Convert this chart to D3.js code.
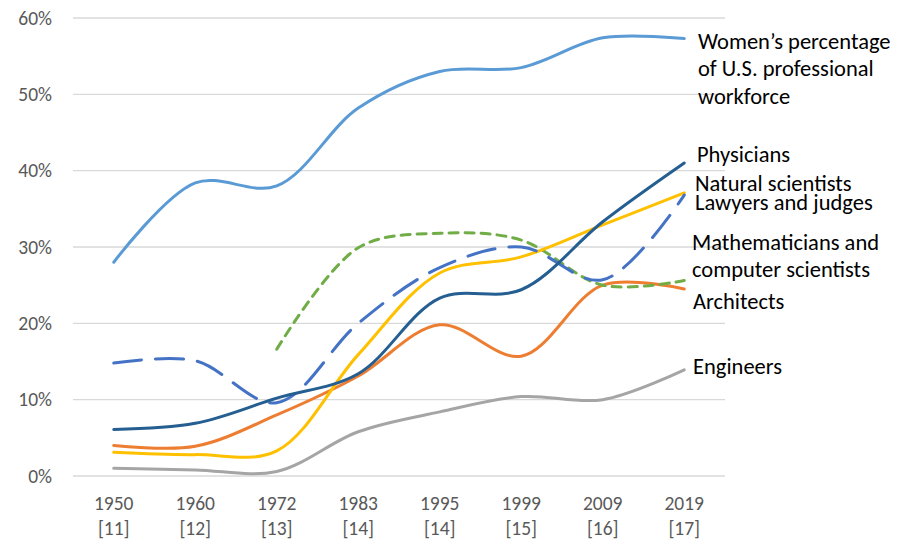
<!DOCTYPE html>
<html><head><meta charset="utf-8">
<script src="https://cdn.jsdelivr.net/npm/d3@7"></script>
<style>body{margin:0;background:#fff}svg{display:block}</style>
</head><body>
<svg id="c" width="900" height="546"></svg>
<script>
const years = ["1950","1960","1972","1983","1995","1999","2009","2019"];
const refs = ["[11]","[12]","[13]","[14]","[14]","[15]","[16]","[17]"];
const yTicks = [0,10,20,30,40,50,60];

const women      = [28.0, 38.4, 38.0, 48.2, 53.0, 53.5, 57.4, 57.3];
const physicians = [6.1, 6.9, 10.2, 13.4, 23.3, 24.4, 33.3, 41.0];
const natural    = [14.8, 15.1, 9.6, 20.0, 27.3, 30.0, 25.7, 36.8];
const lawyers    = [3.1, 2.8, 3.3, 15.9, 26.6, 28.7, 32.9, 37.1];
const maths      = [null, null, 16.6, 29.9, 31.8, 30.9, 25.0, 25.6];
const architects = [4.0, 3.9, 8.0, 13.1, 19.8, 15.7, 25.0, 24.5];
const engineers  = [1.0, 0.8, 0.6, 5.8, 8.4, 10.4, 10.0, 13.9];

const seriesNames = ["Engineers","Architects","Mathematicians and computer scientists","Lawyers and judges","Natural scientists","Physicians","Women’s percentage of U.S. professional workforce"];
const seriesValues = [engineers, architects, maths, lawyers, natural, physicians, women];
const seriesColors = ["#A5A5A5","#ED7D31","#70AD47","#FFC000","#4472C4","#255E91","#5B9BD5"];
const seriesDash = [null, null, "9,7", null, "28,14", null, null];

const svg = d3.select("#c");
const font = "Carlito, Calibri, Lato, sans-serif";
const x = d3.scaleBand().domain(years).range([73, 725]);
const y = d3.scaleLinear().domain([0, 60]).range([476, 18]);

// gridlines
svg.append("g").selectAll("line").data(yTicks).join("line")
  .attr("x1", 73).attr("x2", 725)
  .attr("y1", d => y(d)).attr("y2", d => y(d))
  .attr("stroke", "#d9d9d9").attr("stroke-width", 1.4);

// y labels
svg.append("g").selectAll("text").data(yTicks).join("text")
  .attr("x", 52).attr("y", d => y(d)).attr("dy", "0.35em")
  .attr("text-anchor", "end").attr("font-family", font).attr("font-size", 19.5)
  .attr("fill", "#595959").text(d => d + "%");

// x labels
const xl = svg.append("g").selectAll("text").data(years).join("text")
  .attr("x", d => x(d) + x.bandwidth() / 2).attr("y", 510)
  .attr("text-anchor", "middle").attr("font-family", font).attr("font-size", 19.5)
  .attr("fill", "#595959");
xl.append("tspan").text(d => d);
xl.append("tspan").attr("x", d => x(d) + x.bandwidth() / 2).attr("dy", 25).text((d, i) => refs[i]);

const line = d3.line()
  .defined(d => d.v != null)
  .x(d => x(d.k) + x.bandwidth() / 2)
  .y(d => y(d.v))
  .curve(d3.curveCatmullRom.alpha(0.5));

seriesValues.forEach((vals, i) => {
  svg.append("path")
    .datum(vals.map((v, j) => ({k: years[j], v})))
    .attr("d", line)
    .attr("fill", "none")
    .attr("stroke", seriesColors[i])
    .attr("stroke-width", 3)
    .attr("stroke-linecap", "round")
    .attr("stroke-dasharray", seriesDash[i]);
});

// right labels
const labels = [
  {lines: ["Women’s percentage", "of U.S. professional", "workforce"], x: 698, y: 41},
  {lines: ["Physicians"], x: 697, y: 154},
  {lines: ["Natural scientists"], x: 695, y: 183},
  {lines: ["Lawyers and judges"], x: 695, y: 202},
  {lines: ["Mathematicians and", "computer scientists"], x: 692, y: 242},
  {lines: ["Architects"], x: 693, y: 301},
  {lines: ["Engineers"], x: 693, y: 366}
];
labels.forEach(l => {
  const t = svg.append("text").attr("font-family", font).attr("font-size", 22.5).attr("fill", "#000");
  l.lines.forEach((s, i) => {
    t.append("tspan").attr("x", l.x).attr("y", l.y + i * 27.5).attr("dy", "0.35em").text(s);
  });
});
</script>
</body></html>
